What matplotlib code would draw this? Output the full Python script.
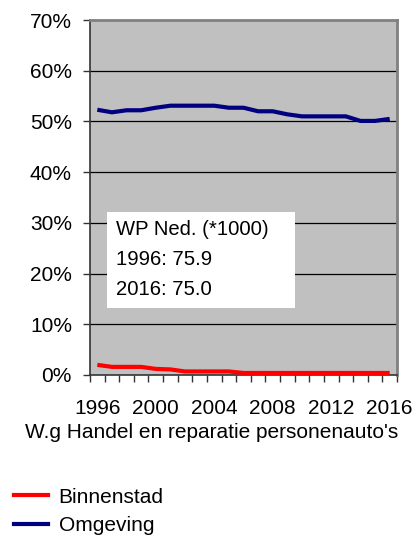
import numpy as np
import matplotlib
matplotlib.use('Agg')
import matplotlib.pyplot as plt
from matplotlib.patches import Rectangle
from matplotlib.lines import Line2D

plt.rcParams['font.family'] = ['Liberation Sans', 'DejaVu Sans']
plt.rcParams['font.size'] = 15

years = list(range(1996, 2017))
binnenstad = [2.0, 1.6, 1.6, 1.6, 1.2, 1.1, 0.7, 0.7, 0.7, 0.7, 0.4,
              0.4, 0.4, 0.4, 0.4, 0.4, 0.4, 0.4, 0.4, 0.4, 0.4]
omgeving = [52.3, 51.8, 52.2, 52.2, 52.7, 53.1, 53.1, 53.1, 53.1, 52.7, 52.7,
            52.0, 52.0, 51.4, 51.0, 51.0, 51.0, 51.0, 50.1, 50.1, 50.5]
yticks = [0, 10, 20, 30, 40, 50, 60, 70]
label_years = [1996, 2000, 2004, 2008, 2012, 2016]
box_lines = ['WP Ned. (*1000)', '1996: 75.9', '2016: 75.0']
xlabel = "W.g Handel en reparatie personenauto's"

fig = plt.figure(figsize=(4.16, 5.41), dpi=100)
ax = fig.add_axes([90/416, 1 - 375/541, 307/416, 355/541])
ax.set_facecolor('#c0c0c0')

x = np.arange(len(years))
ax.plot(x, binnenstad, color='#ff0000', lw=3, solid_capstyle='butt', zorder=3)
ax.plot(x, omgeving, color='#000080', lw=3, solid_capstyle='butt', zorder=3)

ax.set_xlim(-0.5, len(years) - 0.5)
ax.set_ylim(0, 70)
ax.set_yticks(yticks)
ax.set_yticklabels([f'{v}%' for v in yticks])
for v in yticks[1:-1]:
    ax.axhline(v, color='black', lw=0.9, zorder=1)

ax.set_xticks([years.index(y) for y in label_years])
ax.set_xticklabels([str(y) for y in label_years])
ax.set_xticks(np.arange(-0.5, len(years), 1), minor=True)
ax.tick_params(axis='x', which='major', length=0, pad=17)
ax.tick_params(axis='x', which='minor', length=5, width=1, color='#333333')
ax.tick_params(axis='y', length=5, width=1, color='#333333', pad=8)

for s in ['left', 'bottom']:
    ax.spines[s].set_color('#333333')
    ax.spines[s].set_linewidth(1.2)
for s in ['top', 'right']:
    ax.spines[s].set_color('#808080')
    ax.spines[s].set_linewidth(2)

ax.add_patch(Rectangle((17/307, (375-308)/355), 188/307, 96/355,
                       transform=ax.transAxes, facecolor='white',
                       edgecolor='none', zorder=4))
ax.text(26/307, (375-220)/355, '\n'.join(box_lines), transform=ax.transAxes,
        va='top', ha='left', linespacing=1.72, fontsize=14.6, zorder=5)

fig.text(212/416, 1 - 433/541, xlabel, ha='center', va='center')

handles = [Line2D([], [], color='#ff0000', lw=3),
           Line2D([], [], color='#000080', lw=3)]
fig.legend(handles, ['Binnenstad', 'Omgeving'], loc='upper left',
           bbox_to_anchor=(-5/416, 1 - 469/541), frameon=False,
           handlelength=1.65, handletextpad=0.5, labelspacing=0.45)

fig.savefig('out.png', dpi=100)
